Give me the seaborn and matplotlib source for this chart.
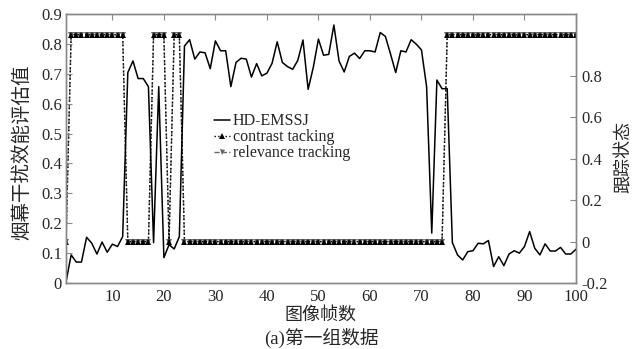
import numpy as np
import pandas as pd
import matplotlib
matplotlib.use("Agg")
import matplotlib.pyplot as plt
import seaborn as sns

frames = list(range(1, 101))
hd_emssj = [0.004, 0.094, 0.07, 0.07, 0.153, 0.133, 0.097, 0.137, 0.103, 0.13,
            0.122, 0.155, 0.704, 0.743, 0.684, 0.684, 0.657, 0.135, 0.657, 0.085,
            0.128, 0.114, 0.155, 0.793, 0.814, 0.749, 0.773, 0.77, 0.717, 0.81,
            0.777, 0.777, 0.657, 0.738, 0.752, 0.749, 0.689, 0.734, 0.693, 0.702,
            0.735, 0.807, 0.738, 0.724, 0.715, 0.745, 0.813, 0.648, 0.721, 0.816,
            0.762, 0.765, 0.863, 0.743, 0.706, 0.758, 0.769, 0.751, 0.777, 0.777,
            0.773, 0.838, 0.825, 0.766, 0.704, 0.777, 0.773, 0.814, 0.799, 0.78,
            0.657, 0.167, 0.679, 0.65, 0.65, 0.135, 0.094, 0.077, 0.105, 0.108,
            0.133, 0.131, 0.142, 0.055, 0.088, 0.058, 0.097, 0.108, 0.1, 0.122,
            0.172, 0.116, 0.094, 0.131, 0.107, 0.107, 0.119, 0.097, 0.097, 0.113]
contrast_state = ([0] + [1] * 11 + [0] * 5 + [1] * 3 + [0] + [1] * 2 + [0] * 51 + [1] * 26)
relevance_state = list(contrast_state)

left_ticks = [0, 0.1, 0.2, 0.3, 0.4, 0.5, 0.6, 0.7, 0.8, 0.9]
right_ticks = [-0.2, 0, 0.2, 0.4, 0.6, 0.8]
x_ticks = [10, 20, 30, 40, 50, 60, 70, 80, 90, 100]

df = pd.DataFrame({"frame": frames, "hd": hd_emssj,
                   "contrast": contrast_state, "relevance": relevance_state})

sns.set_style("white")
plt.rcParams["font.family"] = ["Liberation Serif", "Noto Sans CJK SC"]

fig = plt.figure(figsize=(6.38, 3.49), dpi=100)
ax = fig.add_axes([66 / 638, 1 - 283 / 349, (576 - 66) / 638, (283 - 14) / 349])
ax2 = ax.twinx()

sns.lineplot(data=df, x="frame", y="hd", ax=ax, color="black", lw=1.1,
             label="HD-EMSSJ", legend=False)
sns.lineplot(data=df, x="frame", y="relevance", ax=ax2, color="#666666", lw=1.0,
             ls="--", marker="v", markersize=4, markeredgewidth=0,
             label="relevance tracking", legend=False)
sns.lineplot(data=df, x="frame", y="contrast", ax=ax2, color="black", lw=1.0,
             ls=":", marker="^", markersize=4.5, markeredgewidth=0,
             label="contrast tacking", legend=False)

ax.set_xlim(1, 100)
ax.set_ylim(0, 0.9)
ax2.set_ylim(-0.2, 1.1)
ax.set_xticks(x_ticks)
ax.set_yticks(left_ticks)
ax.set_yticklabels(["0" if t == 0 else f"{t:.1f}" for t in left_ticks])
ax2.set_yticks(right_ticks)
ax2.set_yticklabels(["0" if t == 0 else f"{t:.1f}" for t in right_ticks])

for a in (ax, ax2):
    for s in a.spines.values():
        s.set_color("#888888")
        s.set_linewidth(1.0)
ax.tick_params(axis="both", direction="in", length=4, color="#888888",
               labelsize=12, pad=3, top=True)
ax.tick_params(axis="x", pad=4)
ax2.tick_params(axis="y", direction="in", length=4, color="#888888",
                labelsize=12, pad=4)

ax.set_xlabel("")
ax.set_ylabel("烟幕干扰效能评估值", fontsize=14, family=["Noto Sans CJK SC"],
              fontweight="light", labelpad=6)
ax.yaxis.label.set_y(0.485)
ax2.set_ylabel("跟踪状态", fontsize=13, family=["Noto Sans CJK SC"],
               fontweight="light", labelpad=5)
ax2.yaxis.label.set_y(0.467)

fig.text(321 / 638, 1 - 315 / 349, "图像帧数", ha="center", va="center",
         fontsize=13, family=["Noto Sans CJK SC"], fontweight="light")
fig.text(321 / 638, 1 - 338 / 349, "(a)第一组数据", ha="center", va="center",
         fontsize=13.5, family=["Liberation Serif", "Noto Sans CJK SC"])

h1, l1 = ax.get_legend_handles_labels()
h2, l2 = ax2.get_legend_handles_labels()
handles = h1 + [h2[1], h2[0]]
labels = l1 + [l2[1], l2[0]]
leg = ax.legend(handles, labels, loc="upper left", bbox_to_anchor=(0.275, 0.66),
                frameon=False, fontsize=11.5, handlelength=1.0, handletextpad=0.15,
                labelspacing=0.0, borderpad=0.0, markerscale=0.9)
ax.set_zorder(ax2.get_zorder() + 1)
ax.patch.set_visible(False)

fig.savefig("out.png", dpi=100)
